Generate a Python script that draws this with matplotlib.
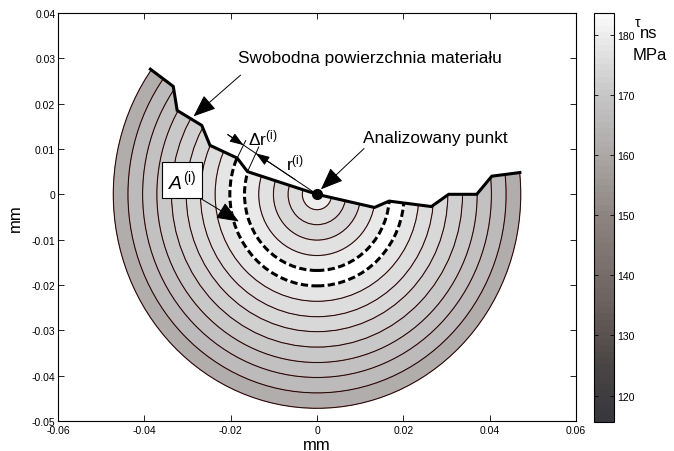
import numpy as np
import matplotlib
matplotlib.use("Agg")
import matplotlib.pyplot as plt
from matplotlib.patches import Circle, Polygon, Wedge
from matplotlib.colors import LinearSegmentedColormap, Normalize
from matplotlib.cm import ScalarMappable

plt.rcParams['font.family'] = ['Liberation Sans', 'DejaVu Sans']
plt.rcParams['mathtext.fontset'] = 'custom'
plt.rcParams['mathtext.rm'] = 'Liberation Sans'
plt.rcParams['mathtext.it'] = 'Liberation Sans:italic'

# Outer radius of each integration ring (mm), from the analysed point outward
ring_radius = [0.0034, 0.0067, 0.0101, 0.0135, 0.0168, 0.0202, 0.0236,
               0.0270, 0.0303, 0.0337, 0.0371, 0.0404, 0.0438, 0.0472]
# Mean shear stress tau_ns in each ring (MPa), innermost disc first
ring_stress = [180.0, 175.5, 174.5, 176.5, 178.5, 181.0, 177.5, 176.0,
               174.5, 172.5, 170.5, 168.5, 166.0, 162.0]
# Free surface of the material, left to right (mm)
surface_x = [-0.0386, -0.0333, -0.0324, -0.0267, -0.0248, -0.0185, -0.0161,
             0.0, 0.0133, 0.0167, 0.0265, 0.0305, 0.0370, 0.0405, 0.0470]
surface_y = [0.0276, 0.0238, 0.0185, 0.0152, 0.0108, 0.0080, 0.0050,
             0.0, -0.0029, -0.0015, -0.0027, 0.0, 0.0, 0.0040, 0.0048]

point_xy = (0.0, 0.0)
area_ring = 5          # ring A(i): between ring_radius[4] and ring_radius[5]
dim_angle_deg = 147.5  # direction of the r(i) / delta r(i) dimension
dim_length = 0.0245

x_ticks = [-0.06, -0.04, -0.02, 0.0, 0.02, 0.04, 0.06]
x_tick_labels = ['-0.06', '-0.04', '-0.02', '0', '0.02', '0.04', '0.06']
y_ticks = [-0.05, -0.04, -0.03, -0.02, -0.01, 0.0, 0.01, 0.02, 0.03, 0.04]
y_tick_labels = ['-0.05', '-0.04', '-0.03', '-0.02', '-0.01', '0',
                 '0.01', '0.02', '0.03', '0.04']
cbar_ticks = [120, 130, 140, 150, 160, 170, 180]
stress_min, stress_max = 115.6, 183.6

# Grey-brown stress colour scale
cmap_values = [115.6, 125.0, 135.0, 150.0, 160.0, 170.0, 183.6]
cmap_colors = ['#37373c', '#4b4545', '#6a605d', '#8e8581', '#aaa7a6',
               '#c6c5c5', '#fafafa']
pos = [(v - stress_min) / (stress_max - stress_min) for v in cmap_values]
cmap = LinearSegmentedColormap.from_list('tau', list(zip(pos, cmap_colors)), N=64)
norm = Normalize(stress_min, stress_max)

fig = plt.figure(figsize=(6.74, 4.52), dpi=100)
ax = fig.add_axes([0.0861, 0.0664, 0.7685, 0.9027])
ax.set_xlim(-0.06, 0.06)
ax.set_ylim(-0.05, 0.04)

# Material region: disc below the free surface
R = ring_radius[-1]
a_right = np.arctan2(surface_y[-1], surface_x[-1])
a_left = np.arctan2(surface_y[0], surface_x[0]) - 2 * np.pi
t = np.linspace(a_right, a_left, 300)
Rc = R * 1.03
outline = np.vstack([np.column_stack([surface_x, surface_y]),
                     np.column_stack([Rc * np.cos(t), Rc * np.sin(t)])])
clip = Polygon(outline, closed=True, transform=ax.transData)

def clipped(patch):
    ax.add_patch(patch)
    patch.set_clip_path(clip)
    return patch

# filled rings, outermost first
for r, s in reversed(list(zip(ring_radius, ring_stress))):
    clipped(Circle(point_xy, r, facecolor=cmap(norm(s)), edgecolor='none', zorder=1))

# highlighted ring A(i)
r_in, r_out = ring_radius[area_ring - 1], ring_radius[area_ring]
clipped(Wedge(point_xy, r_out, 0, 360, width=r_out - r_in,
              facecolor='white', edgecolor='none', zorder=2))

# ring boundaries
for i, r in enumerate(ring_radius):
    if i in (area_ring - 1, area_ring):
        continue
    clipped(Circle(point_xy, r, fill=False, edgecolor='#b02020', lw=0.9,
                   alpha=0.55, zorder=3))
    clipped(Circle(point_xy, r, fill=False, edgecolor='black', lw=0.6, zorder=3))

for r in (r_in, r_out):
    clipped(Circle(point_xy, r, fill=False, edgecolor='white', lw=2.2, zorder=4))
    clipped(Circle(point_xy, r, fill=False, edgecolor='black', lw=2.2,
                   linestyle=(0, (2.4, 1.1)), zorder=4))

# free surface and the analysed point
ax.plot(surface_x, surface_y, color='black', lw=2.2, zorder=6,
        solid_joinstyle='miter')
ax.plot(*point_xy, 'o', color='black', ms=7, zorder=7)

# radial dimension r(i) and delta r(i)
th = np.deg2rad(dim_angle_deg)
u = np.array([np.cos(th), np.sin(th)])
ax.plot([0, dim_length * u[0]], [0, dim_length * u[1]], color='black', lw=0.7, zorder=6)
small = dict(arrowstyle='-|>,head_length=0.7,head_width=0.25', color='black',
             lw=0.7, shrinkA=0, shrinkB=0, mutation_scale=12)
ax.annotate('', xy=tuple(r_out * u), xytext=tuple(dim_length * u),
            arrowprops=small, zorder=8)
ax.annotate('', xy=tuple(r_in * u), xytext=(0.006 * u[0], 0.006 * u[1]),
            arrowprops=small, zorder=8)
for idx, r in ((5, r_out), (6, r_in)):
    p0 = np.array([surface_x[idx], surface_y[idx]])
    p1 = r * u
    p2 = p0 + (p1 - p0) * 1.35
    ax.plot([p0[0], p2[0]], [p0[1], p2[1]], color='black', lw=0.7, zorder=6)

ax.text(-0.0160, 0.0110, r'$\mathrm{\Delta r}^{\mathrm{(i)}}$', fontsize=12.5,
        ha='left', va='baseline', zorder=9)
ax.text(-0.0072, 0.0055, r'$\mathrm{r}^{\mathrm{(i)}}$', fontsize=12.5,
        ha='left', va='baseline', zorder=9)

big = dict(arrowstyle='-|>,head_length=1.0,head_width=0.4', color='black',
           lw=0.7, shrinkA=0, shrinkB=0, mutation_scale=14)
ax.text(-0.0184, 0.0291, 'Swobodna powierzchnia materiału', fontsize=12.4,
        ha='left', va='baseline', zorder=9)
ax.annotate('', xy=(-0.0286, 0.0172), xytext=(-0.0177, 0.0263),
            arrowprops=big, zorder=8)

ax.text(0.0107, 0.01147, 'Analizowany punkt', fontsize=12.4,
        ha='left', va='baseline', zorder=9)
ax.annotate('', xy=(0.0009, 0.0011), xytext=(0.0109, 0.0101),
            arrowprops=big, zorder=8)

ax.text(-0.0312, 0.0031, r'$A^{\mathrm{(i)}}$', fontsize=14, ha='center',
        va='center', zorder=9,
        bbox=dict(boxstyle='square,pad=0.3', facecolor='white',
                  edgecolor='black', lw=0.8))
ax.annotate('', xy=(-0.0181, -0.0060), xytext=(-0.0270, -0.0009),
            arrowprops=big, zorder=8)

# axes styling
ax.set_xticks(x_ticks)
ax.set_xticklabels(x_tick_labels)
ax.set_yticks(y_ticks)
ax.set_yticklabels(y_tick_labels)
ax.tick_params(direction='in', top=True, right=True, length=4, width=0.6,
               labelsize=7.5, pad=2)
ax.tick_params(axis='x', pad=3)
for sp in ax.spines.values():
    sp.set_linewidth(0.8)
ax.set_xlabel('mm', fontsize=12, labelpad=1)
ax.set_ylabel('mm', fontsize=12, labelpad=6)

# colour bar
cax = fig.add_axes([0.8813, 0.0642, 0.0297, 0.905])
cb = fig.colorbar(ScalarMappable(norm=norm, cmap=cmap), cax=cax, ticks=cbar_ticks)
cb.outline.set_linewidth(0.8)
cax.tick_params(direction='in', left=True, right=True, length=3, width=0.6,
                labelsize=7.5, pad=2)
fig.text(635 / 674, 1 - 27 / 452, 'τ', fontsize=10, ha='left', va='baseline')
fig.text(640 / 674, 1 - 38 / 452, 'ns', fontsize=12, ha='left', va='baseline')
fig.text(633 / 674, 1 - 60 / 452, 'MPa', fontsize=12, ha='left', va='baseline')

fig.savefig('out.png', dpi=100)
